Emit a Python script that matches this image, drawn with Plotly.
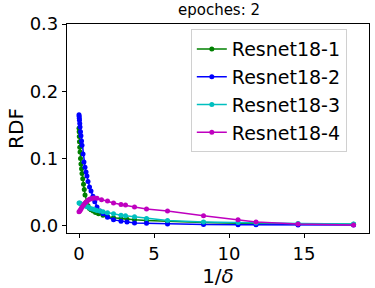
import plotly.graph_objects as go

names = ["Resnet18-1", "Resnet18-2", "Resnet18-3", "Resnet18-4"]
colors = ["#008000", "#0000ff", "#00bfbf", "#bf00bf"]

x1 = [0, 0.01, 0.02, 0.03, 0.05, 0.07, 0.1, 0.13, 0.17, 0.2, 0.25, 0.3, 0.35, 0.4, 0.5, 0.6, 0.7, 0.8,
      0.95, 1.1, 1.3, 1.6, 1.9, 2.3, 2.8, 3.2, 3.7, 4.5, 5.9, 8.3, 10.6, 11.8, 14.6, 18.3]
y1 = [0.145, 0.14, 0.133, 0.125, 0.117, 0.11, 0.1, 0.092, 0.085, 0.078, 0.07, 0.062, 0.054, 0.046, 0.036,
      0.03, 0.026, 0.024, 0.022, 0.02, 0.018, 0.016, 0.014, 0.012, 0.011, 0.01, 0.009, 0.008, 0.0065, 0.005,
      0.004, 0.0035, 0.003, 0.0025]

x2 = [0, 0.01, 0.02, 0.03, 0.05, 0.07, 0.1, 0.13, 0.17, 0.2, 0.27, 0.33, 0.4, 0.47, 0.53, 0.6, 0.7, 0.8,
      0.93, 1.05, 1.2, 1.4, 1.6, 1.9, 2.3, 2.8, 3.2, 3.7, 4.5, 5.9, 8.3, 10.6, 11.8, 14.6, 18.3]
y2 = [0.165, 0.163, 0.16, 0.157, 0.152, 0.147, 0.14, 0.134, 0.126, 0.12, 0.107, 0.095, 0.087, 0.08, 0.074,
      0.066, 0.058, 0.052, 0.044, 0.036, 0.028, 0.022, 0.018, 0.013, 0.009, 0.007, 0.006, 0.0045, 0.004,
      0.003, 0.002, 0.0018, 0.0016, 0.0015, 0.0015]

x3 = [0, 0.05, 0.1, 0.2, 0.3, 0.4, 0.5, 0.6, 0.75, 0.9, 1.05, 1.2, 1.4, 1.6, 1.9, 2.3, 2.8, 3.1, 3.7, 4.5,
      5.9, 8.3, 10.6, 11.8, 14.6, 18.3]
y3 = [0.034, 0.034, 0.033, 0.032, 0.031, 0.03, 0.029, 0.028, 0.026, 0.025, 0.024, 0.023, 0.022, 0.021,
      0.0195, 0.018, 0.016, 0.015, 0.0135, 0.011, 0.008, 0.006, 0.005, 0.0045, 0.0035, 0.003]

x4 = [0, 0.05, 0.1, 0.15, 0.2, 0.3, 0.4, 0.5, 0.6, 0.7, 0.8, 0.9, 1.0, 1.2, 1.5, 1.9, 2.3, 2.8, 3.1, 3.7,
      4.5, 5.9, 8.3, 10.6, 11.8, 14.6, 18.3]
y4 = [0.021, 0.022, 0.024, 0.026, 0.028, 0.031, 0.034, 0.036, 0.038, 0.0395, 0.0405, 0.041, 0.0415, 0.041,
      0.039, 0.037, 0.034, 0.032, 0.031, 0.028, 0.025, 0.022, 0.015, 0.009, 0.006, 0.003, 0.0015]

xs = [x1, x2, x3, x4]
ys = [y1, y2, y3, y4]

x_ticks = [0, 5, 10, 15]
y_ticks = [0.0, 0.1, 0.2, 0.3]

fig = go.Figure()
for n, c, x, y in zip(names, colors, xs, ys):
    fig.add_trace(go.Scatter(x=x, y=y, name=n, mode="lines+markers",
                             line=dict(color=c, width=1.5),
                             marker=dict(color=c, size=5)))

font = "DejaVu Sans"
fig.update_layout(
    width=375, height=288,
    margin=dict(l=67, r=6, t=24, b=55, autoexpand=False),
    paper_bgcolor="white", plot_bgcolor="white",
    font=dict(family=font, color="black"),
    title=dict(text="epoches: 2", x=0.584, xanchor="center", y=0.985, yanchor="top",
               font=dict(size=15, family=font)),
    showlegend=True,
    legend=dict(x=0.41, y=0.975, xanchor="left", yanchor="top",
                bgcolor="rgba(255,255,255,0.8)", bordercolor="#d0d0d0", borderwidth=1,
                font=dict(size=19, family=font), tracegroupgap=0, itemwidth=30),
    xaxis=dict(range=[-0.8, 19.33], tickvals=x_ticks, ticktext=[str(v) for v in x_ticks],
               showgrid=False, zeroline=False, showline=True, linecolor="black", linewidth=1.2,
               mirror=True, ticks="outside", ticklen=4, tickcolor="black", automargin=False,
               tickfont=dict(size=18, family=font),
               title=dict(text="1/<i>δ</i>", font=dict(size=20, family=font), standoff=0)),
    yaxis=dict(range=[-0.0105, 0.3], tickvals=y_ticks, ticktext=["0.0", "0.1", "0.2", "0.3"],
               showgrid=False, zeroline=False, showline=True, linecolor="black", linewidth=1.2,
               mirror=True, ticks="outside", ticklen=4, tickcolor="black", automargin=False,
               tickfont=dict(size=18, family=font),
               title=dict(text="RDF", font=dict(size=20, family=font), standoff=0)),
)

fig.write_html("out.html", config={"displayModeBar": False},
               post_script="document.body.style.margin='0';document.body.style.overflow='hidden';")
